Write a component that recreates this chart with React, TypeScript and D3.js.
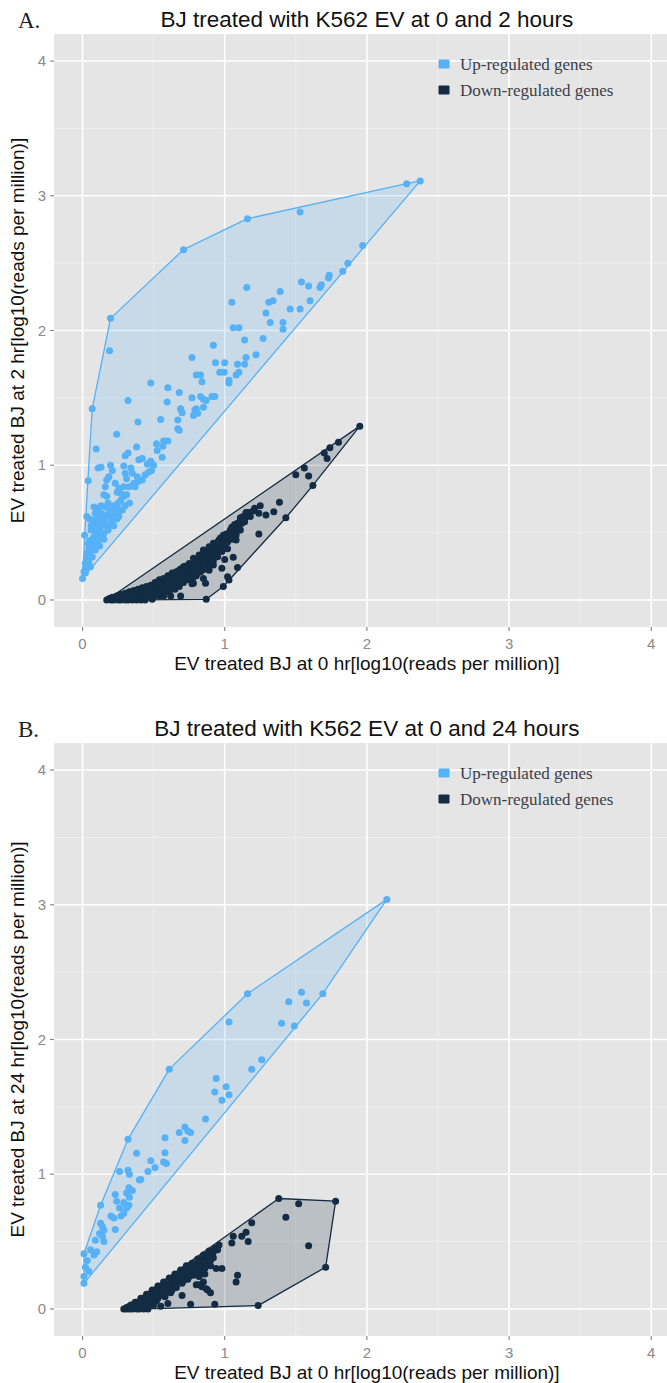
import React from "react";
import * as d3 from "d3";

type Pt = [number, number];

const xTicks = [0, 1, 2, 3, 4];
const yTicks = [0, 1, 2, 3, 4];
const minorTicks = [0.5, 1.5, 2.5, 3.5];
const legendLabels = ["Up-regulated genes", "Down-regulated genes"];
const panelLetters = ["A.", "B."];
const panelTitles = ["BJ treated with K562 EV at 0 and 2 hours", "BJ treated with K562 EV at 0 and 24 hours"];
const xTitles = ["EV treated BJ at 0 hr[log10(reads per million)]", "EV treated BJ at 0 hr[log10(reads per million)]"];
const yTitles = ["EV treated BJ at 2 hr[log10(reads per million)]", "EV treated BJ at 24 hr[log10(reads per million)]"];
const seriesColors = ["#56B1F7", "#132B43"];

const upA: Pt[] = [
  [2.375, 3.11], [2.28, 3.09], [1.53, 2.88], [1.16, 2.83], [0.71, 2.6], [0.197, 2.09], [0.068, 1.42], [0.0, 0.16],
  [0.19, 1.85], [1.05, 2.21], [1.155, 2.32], [1.39, 2.29], [1.31, 2.21], [1.34, 2.22], [1.29, 2.13], [1.46, 2.16],
  [1.53, 2.16], [1.32, 2.06], [1.41, 2.06], [1.41, 2.01], [1.06, 2.02], [1.1, 2.02], [1.14, 1.93], [1.27, 1.94],
  [0.92, 1.89], [0.77, 1.8], [0.935, 1.76], [1.0, 1.76], [1.15, 1.8], [1.22, 1.82], [1.09, 1.75], [1.14, 1.75],
  [0.8, 1.67], [0.83, 1.67], [0.965, 1.69], [0.996, 1.69], [0.84, 1.62], [1.08, 1.67], [1.1, 1.69], [1.03, 1.63],
  [1.03, 1.61], [0.48, 1.61], [0.6, 1.575], [0.68, 1.54], [0.32, 1.48], [0.595, 1.47], [0.77, 1.5], [0.83, 1.51],
  [0.85, 1.49], [0.87, 1.48], [0.93, 1.51], [0.69, 1.42], [0.8, 1.42], [0.85, 1.43],
  [1.97, 2.63], [1.866, 2.5], [1.83, 2.44], [1.735, 2.41], [1.73, 2.39], [1.68, 2.34], [1.67, 2.32], [1.54, 2.36],
  [1.59, 2.33], [1.6, 2.22],
  [0.69, 1.415], [0.7, 1.39], [0.79, 1.41], [0.81, 1.385], [0.78, 1.37], [0.91, 1.51], [0.55, 1.34], [0.39, 1.32],
  [0.67, 1.335], [0.67, 1.27], [0.68, 1.26], [0.24, 1.23], [0.096, 1.12], [0.38, 1.135], [0.52, 1.16], [0.57, 1.18],
  [0.6, 1.18], [0.525, 1.11], [0.565, 1.14], [0.56, 1.06], [0.3, 1.07], [0.11, 0.98], [0.13, 0.985], [0.197, 1.0],
  [0.21, 0.96], [0.185, 0.915], [0.17, 0.89], [0.16, 0.84], [0.15, 0.78], [0.17, 0.77], [0.29, 0.994], [0.34, 0.98],
  [0.3, 0.94], [0.35, 0.94], [0.31, 0.9], [0.385, 0.915], [0.36, 0.866], [0.326, 0.84], [0.29, 0.84], [0.255, 0.83],
  [0.27, 0.79], [0.29, 0.77], [0.31, 0.78], [0.244, 0.8], [0.23, 0.866], [0.396, 1.04], [0.42, 1.05], [0.455, 1.01],
  [0.48, 1.03], [0.5, 1.0], [0.485, 0.96], [0.466, 0.95], [0.44, 0.93], [0.42, 0.89], [0.39, 0.88], [0.37, 0.84],
  [0.32, 1.09], [0.04, 0.885],
  [0.08, 0.69], [0.115, 0.68], [0.16, 0.69], [0.21, 0.68], [0.244, 0.69], [0.28, 0.667], [0.09, 0.643], [0.14, 0.64],
  [0.185, 0.63], [0.23, 0.643], [0.255, 0.62], [0.03, 0.62], [0.068, 0.593], [0.115, 0.593], [0.16, 0.58], [0.21, 0.593],
  [0.127, 0.544], [0.174, 0.544], [0.103, 0.507], [0.15, 0.495], [0.08, 0.47], [0.127, 0.458], [0.103, 0.42], [0.068, 0.408],
  [0.044, 0.38], [0.09, 0.37], [0.033, 0.346], [0.068, 0.32], [0.044, 0.284], [0.02, 0.27], [0.056, 0.247], [0.01, 0.21],
  [0.02, 0.2], [0.015, 0.48], [0.1, 0.56], [0.06, 0.52], [0.13, 0.62], [0.19, 0.66], [0.05, 0.44], [0.12, 0.5],
  [0.02, 0.23], [0.03, 0.3], [0.05, 0.35], [0.04, 0.42], [0.07, 0.45], [0.09, 0.48], [0.06, 0.55], [0.1, 0.6],
  [0.14, 0.58], [0.17, 0.62], [0.2, 0.64], [0.22, 0.7], [0.25, 0.72], [0.27, 0.74], [0.18, 0.72], [0.13, 0.7],
  [0.1, 0.65], [0.05, 0.6], [0.08, 0.53], [0.11, 0.44], [0.07, 0.38], [0.04, 0.33], [0.03, 0.25], [0.12, 0.4],
  [0.15, 0.45], [0.18, 0.52], [0.2, 0.56], [0.24, 0.6], [0.3, 0.7], [0.33, 0.72], [0.26, 0.66], [0.22, 0.55]
];

const downA: Pt[] = [
  [0.185, 0.005], [0.23, 0.005], [0.28, 0.015], [0.33, 0.03], [0.37, 0.045], [0.42, 0.062], [0.47, 0.087], [0.51, 0.11],
  [0.56, 0.148], [0.61, 0.173], [0.64, 0.198], [0.68, 0.22], [0.71, 0.247], [0.75, 0.27], [0.78, 0.31], [0.82, 0.334],
  [0.85, 0.37], [0.89, 0.395], [0.92, 0.42], [0.96, 0.445], [0.99, 0.48], [1.03, 0.495], [1.05, 0.54], [1.09, 0.57],
  [1.11, 0.59], [1.13, 0.62], [1.17, 0.65],
  [0.17, 0], [0.2, 0], [0.22, 0], [0.25, 0], [0.27, 0], [0.3, 0], [0.32, 0], [0.35, 0], [0.38, 0], [0.41, 0], [0.44, 0],
  [0.49, 0.005], [0.5, 0.025], [0.62, 0.03], [0.69, 0.03], [0.87, 0.005],
  [0.22, 0.01], [0.25, 0.015], [0.26, 0.005], [0.29, 0.01], [0.31, 0.02], [0.34, 0.01], [0.36, 0.03], [0.39, 0.02],
  [0.4, 0.04], [0.43, 0.03], [0.44, 0.05], [0.46, 0.02], [0.47, 0.06], [0.48, 0.04], [0.5, 0.07], [0.52, 0.05],
  [0.53, 0.09], [0.55, 0.06], [0.56, 0.11], [0.57, 0.03], [0.58, 0.08], [0.59, 0.13], [0.6, 0.1], [0.61, 0.06],
  [0.62, 0.14], [0.63, 0.11], [0.65, 0.16], [0.65, 0.08], [0.66, 0.13], [0.67, 0.19], [0.68, 0.1], [0.69, 0.16],
  [0.7, 0.21], [0.71, 0.13], [0.72, 0.18], [0.73, 0.23], [0.74, 0.15], [0.75, 0.2], [0.76, 0.25], [0.77, 0.12],
  [0.78, 0.22], [0.79, 0.28], [0.8, 0.18], [0.81, 0.25], [0.82, 0.3], [0.83, 0.21], [0.84, 0.27], [0.85, 0.33],
  [0.86, 0.23], [0.87, 0.3], [0.88, 0.36], [0.89, 0.26], [0.9, 0.33], [0.91, 0.38], [0.92, 0.29], [0.93, 0.35],
  [0.94, 0.41], [0.95, 0.32], [0.96, 0.39], [0.97, 0.43], [0.98, 0.36], [1.0, 0.42], [1.01, 0.46], [1.02, 0.38],
  [1.04, 0.5], [1.06, 0.47], [1.07, 0.53], [1.08, 0.5], [1.1, 0.55], [1.12, 0.57], [1.14, 0.6], [1.15, 0.63],
  [1.18, 0.62], [1.2, 0.66],
  [1.08, 0.445], [1.06, 0.317], [1.0, 0.3], [1.09, 0.24], [0.98, 0.235], [1.02, 0.173], [1.03, 0.148], [0.99, 0.1],
  [0.865, 0.124], [0.85, 0.16], [0.78, 0.124], [0.65, 0.11], [0.89, 0.22], [0.92, 0.26], [0.935, 0.33], [0.98, 0.37],
  [1.0, 0.41], [1.24, 0.49], [1.24, 0.643], [1.29, 0.63], [1.345, 0.655], [1.385, 0.725], [1.43, 0.61], [1.5, 0.93],
  [1.56, 0.98], [1.59, 0.92], [1.62, 0.85], [1.72, 1.05], [1.7, 1.09], [1.74, 1.13], [1.8, 1.17], [1.95, 1.29],
  [0.19, 0.01], [0.21, 0.02], [0.24, 0.03], [0.27, 0.025], [0.3, 0.035], [0.32, 0.045], [0.35, 0.05], [0.38, 0.06],
  [0.41, 0.075], [0.45, 0.075], [0.49, 0.095], [0.51, 0.08], [0.54, 0.13], [0.57, 0.12], [0.6, 0.155], [0.63, 0.17],
  [0.66, 0.18], [0.69, 0.2], [0.72, 0.22], [0.74, 0.245], [0.77, 0.26], [0.79, 0.295], [0.83, 0.315], [0.86, 0.35],
  [0.9, 0.37], [0.93, 0.4], [0.95, 0.43], [0.97, 0.46], [1.01, 0.49], [1.04, 0.52], [1.07, 0.56], [1.11, 0.61],
  [1.15, 0.65], [1.21, 0.68], [1.25, 0.7], [0.7, 0.17], [0.75, 0.17], [0.8, 0.26], [0.84, 0.3], [0.88, 0.32],
  [0.92, 0.35], [0.96, 0.41], [0.64, 0.14], [0.6, 0.13], [0.56, 0.09], [0.52, 0.1], [0.46, 0.05], [0.42, 0.04],
  [0.38, 0.03], [0.34, 0.03],
  [0.24, 0.02], [0.27, 0.04], [0.3, 0.05], [0.3, 0.01], [0.33, 0.06], [0.33, 0.015], [0.36, 0.07], [0.36, 0.04],
  [0.36, 0.01], [0.39, 0.08], [0.39, 0.045], [0.39, 0.01], [0.42, 0.09], [0.42, 0.05], [0.42, 0.015], [0.45, 0.1],
  [0.45, 0.06], [0.45, 0.03], [0.48, 0.11], [0.48, 0.07], [0.48, 0.02], [0.51, 0.13], [0.51, 0.09], [0.51, 0.04],
  [0.54, 0.15], [0.54, 0.11], [0.54, 0.07], [0.54, 0.03], [0.57, 0.16], [0.57, 0.1], [0.57, 0.05], [0.6, 0.18],
  [0.6, 0.12], [0.6, 0.08], [0.63, 0.2], [0.63, 0.15], [0.63, 0.09], [0.66, 0.21], [0.66, 0.15], [0.66, 0.11],
  [0.69, 0.23], [0.69, 0.18], [0.69, 0.13], [0.72, 0.25], [0.72, 0.2], [0.72, 0.15], [0.75, 0.24], [0.75, 0.22],
  [0.75, 0.16], [0.78, 0.27], [0.78, 0.2], [0.78, 0.17], [0.81, 0.29], [0.81, 0.23], [0.81, 0.2], [0.84, 0.32],
  [0.84, 0.25], [0.84, 0.22], [0.87, 0.34], [0.87, 0.28], [0.87, 0.24], [0.9, 0.36], [0.9, 0.3], [0.9, 0.27],
  [0.93, 0.38], [0.93, 0.32], [0.96, 0.42], [0.96, 0.36], [0.99, 0.44], [0.99, 0.38], [1.02, 0.47], [1.02, 0.43],
  [1.05, 0.5], [1.05, 0.45], [1.08, 0.53], [1.08, 0.48], [1.11, 0.57], [1.11, 0.52], [1.14, 0.62], [1.14, 0.58]
];

const upB: Pt[] = [
  [2.14, 3.04], [1.16, 2.34], [1.69, 2.34], [0.61, 1.78], [0.32, 1.26], [0.127, 0.77], [0.01, 0.41], [0.01, 0.19],
  [1.54, 2.35], [1.45, 2.28], [1.575, 2.27], [1.4, 2.12], [1.49, 2.1], [1.03, 2.13], [1.19, 1.78], [1.26, 1.85],
  [0.94, 1.71], [1.01, 1.65], [0.93, 1.61], [1.03, 1.59], [0.98, 1.55], [0.865, 1.41], [0.68, 1.31], [0.72, 1.35],
  [0.74, 1.32], [0.76, 1.31], [0.72, 1.25], [0.58, 1.27], [0.38, 1.155], [0.58, 1.16], [0.48, 1.1], [0.57, 1.09],
  [0.59, 1.08], [0.51, 1.05], [0.46, 1.02], [0.26, 1.02], [0.32, 1.03], [0.33, 1.0], [0.41, 0.96], [0.4, 0.957],
  [0.326, 0.9], [0.35, 0.88], [0.31, 0.86], [0.33, 0.83], [0.23, 0.85], [0.24, 0.8], [0.29, 0.79], [0.326, 0.77],
  [0.31, 0.75], [0.26, 0.75], [0.29, 0.71], [0.27, 0.69], [0.2, 0.69], [0.22, 0.675], [0.23, 0.59], [0.127, 0.636],
  [0.14, 0.61], [0.15, 0.585], [0.12, 0.56], [0.14, 0.54], [0.15, 0.5], [0.09, 0.51], [0.056, 0.44], [0.1, 0.425],
  [0.08, 0.4], [0.033, 0.36], [0.02, 0.31], [0.044, 0.28], [0.01, 0.24]
];

const downB: Pt[] = [
  [1.38, 0.82], [1.78, 0.8], [1.71, 0.31], [1.235, 0.025], [0.29, 0.0],
  [1.52, 0.78], [1.43, 0.68], [1.59, 0.47], [1.19, 0.64], [1.06, 0.54], [1.12, 0.54], [1.15, 0.57], [1.05, 0.49],
  [1.165, 0.5], [0.96, 0.475], [0.98, 0.3], [0.93, 0.035], [0.76, 0.035], [1.09, 0.25], [1.08, 0.2],
  [0.33, 0.02], [0.37, 0.05], [0.41, 0.08], [0.45, 0.11], [0.49, 0.14], [0.53, 0.17], [0.57, 0.2], [0.61, 0.23],
  [0.65, 0.26], [0.69, 0.29], [0.73, 0.32], [0.77, 0.34], [0.81, 0.37], [0.85, 0.4], [0.89, 0.43], [0.93, 0.45],
  [0.31, 0.0], [0.33, 0.0], [0.35, 0.0], [0.38, 0.0], [0.4, 0.01], [0.43, 0.0], [0.36, 0.02], [0.4, 0.04],
  [0.44, 0.06], [0.47, 0.03], [0.48, 0.09], [0.52, 0.06], [0.55, 0.12], [0.58, 0.09], [0.6, 0.15], [0.62, 0.12],
  [0.64, 0.2], [0.66, 0.16], [0.68, 0.22], [0.7, 0.19], [0.72, 0.26], [0.74, 0.22], [0.75, 0.28], [0.78, 0.25],
  [0.8, 0.31], [0.82, 0.27], [0.84, 0.33], [0.86, 0.3], [0.88, 0.36], [0.9, 0.32], [0.92, 0.38], [0.94, 0.3],
  [0.6, 0.04], [0.55, 0.02], [0.7, 0.1], [0.8, 0.18], [0.85, 0.2], [0.88, 0.14], [0.9, 0.12], [0.87, 0.15],
  [0.84, 0.165], [0.82, 0.18],
  [0.32, 0.01], [0.34, 0.02], [0.37, 0.03], [0.39, 0.05], [0.42, 0.06], [0.44, 0.08], [0.46, 0.1], [0.5, 0.12],
  [0.52, 0.14], [0.56, 0.16], [0.59, 0.18], [0.62, 0.2], [0.64, 0.23], [0.67, 0.25], [0.7, 0.27], [0.72, 0.29],
  [0.76, 0.31], [0.79, 0.33], [0.83, 0.36], [0.87, 0.38], [0.91, 0.41], [0.95, 0.44], [0.5, 0.09], [0.54, 0.1],
  [0.57, 0.14], [0.63, 0.16], [0.67, 0.2], [0.71, 0.23], [0.77, 0.28], [0.82, 0.24], [0.86, 0.26], [0.45, 0.04],
  [0.5, 0.03], [0.4, 0.0], [0.46, 0.0],
  [0.31, 0.01], [0.34, 0.03], [0.36, 0.01], [0.38, 0.04], [0.41, 0.03], [0.42, 0.07], [0.44, 0.02], [0.47, 0.07],
  [0.49, 0.05], [0.51, 0.1], [0.53, 0.08], [0.56, 0.13], [0.58, 0.11], [0.61, 0.17], [0.63, 0.14], [0.65, 0.22],
  [0.66, 0.19], [0.69, 0.24], [0.71, 0.21], [0.73, 0.28], [0.75, 0.24], [0.78, 0.3], [0.8, 0.27], [0.81, 0.34],
  [0.83, 0.3], [0.86, 0.33], [0.88, 0.4], [0.9, 0.36], [0.92, 0.42]
];

const panelsData = [
  { up: upA, down: downA },
  { up: upB, down: downB }
];

const W = 667;
const H = 1383;
const SANS = "'Liberation Sans', Arial, Helvetica, sans-serif";
const SERIF = "'Liberation Serif', 'Times New Roman', serif";

function Panel({ idx, offsetY }: { idx: number; offsetY: number }) {
  const data = panelsData[idx];
  const x = d3.scaleLinear().domain([-0.2, 4.2]).range([54.1, 679.7]);
  const y = d3.scaleLinear().domain([-0.2, 4.2]).range([offsetY + 626.9, offsetY + 34.1]);
  const [px0, px1] = x.range();
  const [py0, py1] = y.range();
  const series = [data.up, data.down];
  const hullPath = (pts: Pt[]) => {
    const proj = pts.map((p) => [x(p[0]), y(p[1])] as [number, number]);
    const hull = d3.polygonHull(proj);
    return hull ? "M" + hull.map((h) => h.join(",")).join("L") + "Z" : "";
  };
  return (
    <g>
      <text x={18} y={offsetY + 28} fontFamily={SERIF} fontSize={23} fill="#222">{panelLetters[idx]}</text>
      <text x={(px0 + px1) / 2} y={offsetY + 27} textAnchor="middle" fontFamily={SANS} fontSize={22.5} fill="#111">
        {panelTitles[idx]}
      </text>
      <rect x={px0} y={py1} width={px1 - px0} height={py0 - py1} fill="#E5E5E5" />
      {minorTicks.map((t) => (
        <g key={"m" + t}>
          <line x1={x(t)} x2={x(t)} y1={py1} y2={py0} stroke="#F2F2F2" strokeWidth={0.8} />
          <line x1={px0} x2={px1} y1={y(t)} y2={y(t)} stroke="#F2F2F2" strokeWidth={0.8} />
        </g>
      ))}
      {xTicks.map((t) => (
        <line key={"gx" + t} x1={x(t)} x2={x(t)} y1={py1} y2={py0} stroke="#FFFFFF" strokeWidth={1.6} />
      ))}
      {yTicks.map((t) => (
        <line key={"gy" + t} x1={px0} x2={px1} y1={y(t)} y2={y(t)} stroke="#FFFFFF" strokeWidth={1.6} />
      ))}
      {series.map((pts, i) => (
        <path key={"h" + i} d={hullPath(pts)} fill={seriesColors[i]} fillOpacity={0.2}
          stroke={seriesColors[i]} strokeWidth={1.3} strokeLinejoin="round" />
      ))}
      {series.map((pts, i) => (
        <g key={"p" + i}>
          {pts.map((p, j) => (
            <circle key={j} cx={x(p[0])} cy={y(p[1])} r={3.5} fill={seriesColors[i]} />
          ))}
        </g>
      ))}
      {legendLabels.map((lab, i) => (
        <g key={"l" + i}>
          <rect x={438.5} y={offsetY + 59.5 + i * 26} width={11} height={9} rx={1} fill={seriesColors[i]} />
          <text x={460} y={offsetY + 70 + i * 26} fontFamily={SERIF} fontSize={17} fill="#3a3f4a">{lab}</text>
        </g>
      ))}
      {xTicks.map((t) => (
        <g key={"tx" + t}>
          <line x1={x(t)} x2={x(t)} y1={py0} y2={py0 + 4} stroke="#7F7F7F" strokeWidth={1.1} />
          <text x={x(t)} y={py0 + 22} textAnchor="middle" fontFamily={SANS} fontSize={15} fill="#8A8A8A">{t}</text>
        </g>
      ))}
      {yTicks.map((t) => (
        <g key={"ty" + t}>
          <line x1={px0 - 4} x2={px0} y1={y(t)} y2={y(t)} stroke="#7F7F7F" strokeWidth={1.1} />
          <text x={px0 - 8} y={y(t) + 5} textAnchor="end" fontFamily={SANS} fontSize={15} fill="#8A8A8A">{t}</text>
        </g>
      ))}
      <text x={(px0 + px1) / 2} y={py0 + 43} textAnchor="middle" fontFamily={SANS} fontSize={19} fill="#111">
        {xTitles[idx]}
      </text>
      <text transform={`translate(24,${(py0 + py1) / 2}) rotate(-90)`} textAnchor="middle" fontFamily={SANS} fontSize={19} fill="#111">
        {yTitles[idx]}
      </text>
    </g>
  );
}

export default function App() {
  return (
    <svg width={W} height={H} viewBox={`0 0 ${W} ${H}`}
      style={{ position: "absolute", left: 0, top: 0, background: "#FFFFFF" }}>
      <rect x={0} y={0} width={W} height={H} fill="#FFFFFF" />
      <Panel idx={0} offsetY={0} />
      <Panel idx={1} offsetY={709} />
    </svg>
  );
}
